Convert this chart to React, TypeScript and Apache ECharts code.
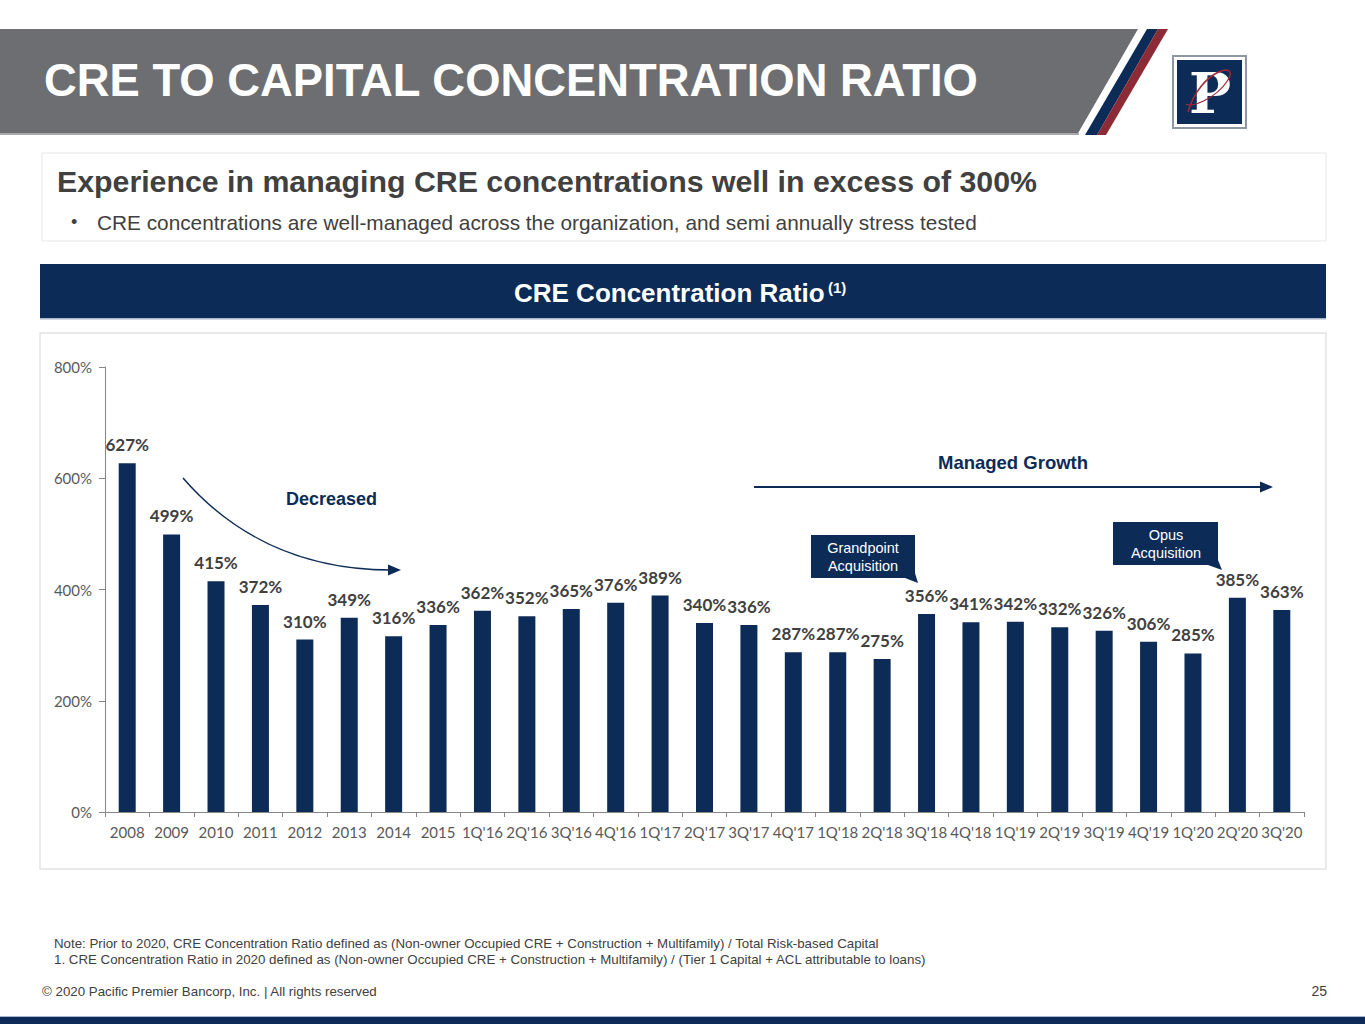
import React, { useEffect, useRef } from 'react';
import * as echarts from 'echarts';

const categories = [
  '2008', '2009', '2010', '2011', '2012', '2013', '2014', '2015',
  "1Q'16", "2Q'16", "3Q'16", "4Q'16", "1Q'17", "2Q'17", "3Q'17", "4Q'17",
  "1Q'18", "2Q'18", "3Q'18", "4Q'18", "1Q'19", "2Q'19", "3Q'19", "4Q'19",
  "1Q'20", "2Q'20", "3Q'20",
];
const ratios = [
  627, 499, 415, 372, 310, 349, 316, 336,
  362, 352, 365, 376, 389, 340, 336, 287,
  287, 275, 356, 341, 342, 332, 326, 306,
  285, 385, 363,
];
const yMin = 0;
const yMax = 800;
const yStep = 200;

const NAVY = '#0c2b56';
const GRAY = '#6d6e71';
const TEXT = '#404040';
const SANS = '"Liberation Sans", Arial, sans-serif';
const CAL = 'Lato, "Open Sans", sans-serif';

function txt(x: number, y: number, text: string, o: any = {}) {
  return {
    type: 'text',
    x,
    y,
    z: o.z ?? 10,
    style: {
      text,
      fill: o.fill ?? TEXT,
      fontSize: o.fontSize ?? 14,
      fontWeight: o.fontWeight ?? 'normal',
      fontFamily: o.fontFamily ?? SANS,
      align: o.align ?? 'left',
      verticalAlign: 'middle',
      textAlign: o.align ?? 'left',
      textVerticalAlign: 'middle',
    },
  };
}

export default function App() {
  const ref = useRef<HTMLDivElement>(null);
  useEffect(() => {
    document.body.style.margin = '0';
    if (!ref.current) return;
    const chart = echarts.init(ref.current, undefined, { renderer: 'svg' });
    const graphic: any[] = [
      // header band
      { type: 'polygon', z: 1, shape: { points: [[0, 29], [1138, 29], [1077, 135], [0, 135]] }, style: { fill: GRAY } },
      { type: 'rect', z: 1, shape: { x: 0, y: 133, width: 1079, height: 2 }, style: { fill: '#a7a8aa' } },
      { type: 'polygon', z: 1, shape: { points: [[1147, 29], [1158, 29], [1097, 135], [1085, 135]] }, style: { fill: NAVY } },
      { type: 'polygon', z: 1, shape: { points: [[1158, 29], [1168, 29], [1106, 135], [1097, 135]] }, style: { fill: '#8c2a36' } },
      txt(44, 80, 'CRE TO CAPITAL CONCENTRATION RATIO', { fill: '#ffffff', fontSize: 45.4, fontWeight: 'bold' }),
      // logo
      { type: 'rect', z: 1, shape: { x: 1173, y: 56, width: 73, height: 72 }, style: { fill: '#ffffff', stroke: '#8d96a3', lineWidth: 2 } },
      { type: 'rect', z: 2, shape: { x: 1177, y: 60, width: 65, height: 64 }, style: { fill: NAVY } },
      txt(1210, 93, 'P', { fill: '#ffffff', fontSize: 56, fontWeight: 'bold', fontFamily: '"DejaVu Serif", "Liberation Serif", serif', align: 'center', z: 3 }),
      { type: 'bezierCurve', z: 4, shape: { x1: 1188, y1: 112, cpx1: 1200, cpy1: 70, cpx2: 1240, cpy2: 60, x2: 1228, y2: 80 }, style: { stroke: '#a3283a', lineWidth: 1.5, fill: 'none' } },
      { type: 'bezierCurve', z: 4, shape: { x1: 1228, y1: 80, cpx1: 1215, cpy1: 100, cpx2: 1190, cpy2: 108, x2: 1186, y2: 104 }, style: { stroke: '#a3283a', lineWidth: 1.2, fill: 'none' } },
      // subtitle box
      { type: 'rect', z: 1, shape: { x: 42, y: 153, width: 1284, height: 88 }, style: { fill: '#ffffff', stroke: '#e6e6e6', lineWidth: 1 } },
      txt(57, 181, 'Experience in managing CRE concentrations well in excess of 300%', { fontSize: 30.3, fontWeight: 'bold' }),
      txt(71, 222, '•', { fontSize: 18 }),
      txt(97, 222, 'CRE concentrations are well-managed across the organization, and semi annually stress tested', { fontSize: 20.8 }),
      // navy band
      { type: 'rect', z: 1, shape: { x: 40, y: 264, width: 1286, height: 55 }, style: { fill: NAVY } },
      { type: 'rect', z: 1, shape: { x: 40, y: 318, width: 1286, height: 1.5 }, style: { fill: '#a8b6c8' } },
      txt(514, 293, 'CRE Concentration Ratio', { fill: '#ffffff', fontSize: 26, fontWeight: 'bold' }),
      txt(828, 287, '(1)', { fill: '#ffffff', fontSize: 15, fontWeight: 'bold' }),
      // chart box
      { type: 'rect', z: 0, shape: { x: 40, y: 333, width: 1286, height: 536 }, style: { fill: 'none', stroke: '#e3e3e3', lineWidth: 1.5 } },
      // Decreased annotation
      { type: 'bezierCurve', z: 10, shape: { x1: 183, y1: 478, cpx1: 228, cpy1: 530, cpx2: 295, cpy2: 570, x2: 392, y2: 570 }, style: { stroke: NAVY, lineWidth: 1.5, fill: 'none' } },
      { type: 'polygon', z: 10, shape: { points: [[388, 564.5], [401, 570], [388, 575.5]] }, style: { fill: NAVY } },
      txt(286, 499, 'Decreased', { fill: NAVY, fontSize: 18, fontWeight: 'bold' }),
      // Managed growth
      { type: 'line', z: 10, shape: { x1: 754, y1: 487, x2: 1262, y2: 487 }, style: { stroke: NAVY, lineWidth: 2 } },
      { type: 'polygon', z: 10, shape: { points: [[1260, 481.5], [1273, 487], [1260, 492.5]] }, style: { fill: NAVY } },
      txt(1013, 462, 'Managed Growth', { fill: NAVY, fontSize: 18.5, fontWeight: 'bold', align: 'center' }),
      // callouts
      { type: 'polygon', z: 10, shape: { points: [[811, 535], [915, 535], [915, 573], [918, 583], [905, 578], [811, 578]] }, style: { fill: NAVY } },
      txt(863, 548, 'Grandpoint', { fill: '#ffffff', fontSize: 14.5, align: 'center', z: 11 }),
      txt(863, 566, 'Acquisition', { fill: '#ffffff', fontSize: 14.5, align: 'center', z: 11 }),
      { type: 'polygon', z: 10, shape: { points: [[1113, 522], [1218, 522], [1218, 560], [1222, 570], [1208, 565], [1113, 565]] }, style: { fill: NAVY } },
      txt(1166, 535, 'Opus', { fill: '#ffffff', fontSize: 14.5, align: 'center', z: 11 }),
      txt(1166, 553, 'Acquisition', { fill: '#ffffff', fontSize: 14.5, align: 'center', z: 11 }),
      // notes
      txt(54, 943, 'Note: Prior to 2020, CRE Concentration Ratio defined as (Non-owner Occupied CRE + Construction + Multifamily) / Total Risk-based Capital', { fontSize: 13.3 }),
      txt(54, 959, '1. CRE Concentration Ratio in 2020 defined as (Non-owner Occupied CRE + Construction + Multifamily) / (Tier 1 Capital + ACL attributable to loans)', { fontSize: 13.3 }),
      txt(42, 991, '© 2020 Pacific Premier Bancorp, Inc. | All rights reserved', { fontSize: 13.3 }),
      txt(1327, 991, '25', { fontSize: 14, align: 'right' }),
      // bottom band
      { type: 'rect', z: 1, shape: { x: 0, y: 1016, width: 1365, height: 1.5 }, style: { fill: '#a8b6c8' } },
      { type: 'rect', z: 1, shape: { x: 0, y: 1017, width: 1365, height: 7 }, style: { fill: NAVY } },
    ];

    chart.setOption({
      animation: false,
      backgroundColor: '#ffffff',
      graphic,
      grid: { left: 105, right: 61, top: 367, bottom: 212, containLabel: false },
      xAxis: {
        type: 'category',
        data: categories,
        boundaryGap: true,
        axisLine: { show: true, lineStyle: { color: '#868686', width: 1 } },
        axisTick: { show: true, length: 5, lineStyle: { color: '#868686' } },
        axisLabel: { color: '#595959', fontSize: 15, fontFamily: CAL, margin: 12, interval: 0 },
      },
      yAxis: {
        type: 'value',
        min: yMin,
        max: yMax,
        interval: yStep,
        axisLine: { show: true, lineStyle: { color: '#868686', width: 1 } },
        axisTick: { show: true, length: 6, lineStyle: { color: '#868686' } },
        splitLine: { show: false },
        axisLabel: { color: '#595959', fontSize: 15, fontFamily: CAL, margin: 13, formatter: '{value}%' },
      },
      series: [
        {
          type: 'bar',
          data: ratios,
          barWidth: 17,
          itemStyle: { color: NAVY },
          label: {
            show: true,
            position: 'top',
            distance: 10,
            formatter: '{c}%',
            color: TEXT,
            fontSize: 17,
            fontWeight: 'bold',
            fontFamily: CAL,
          },
        },
      ],
    });
    return () => chart.dispose();
  }, []);
  return <div ref={ref} style={{ position: 'absolute', left: 0, top: 0, width: 1365, height: 1024 }} />;
}
